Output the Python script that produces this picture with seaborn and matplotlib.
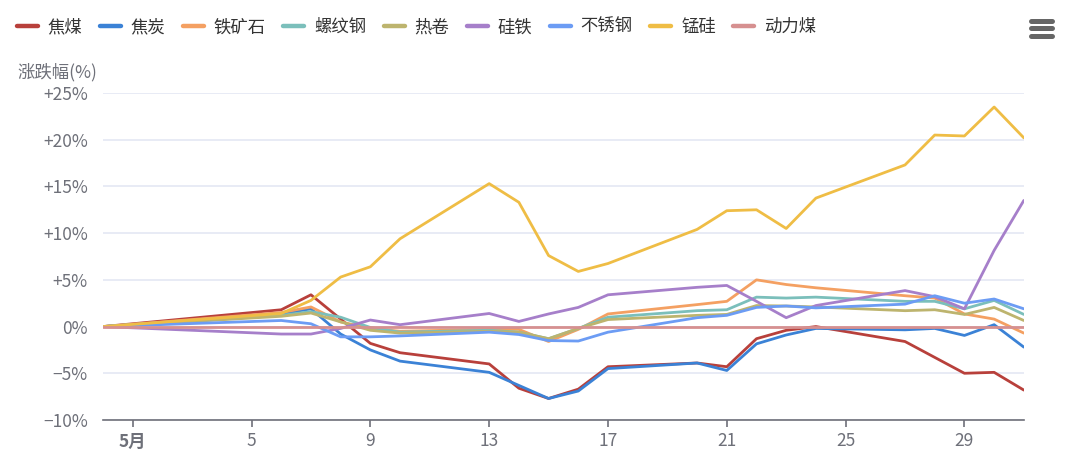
import pandas as pd
import matplotlib
matplotlib.use("Agg")
import matplotlib.pyplot as plt
import seaborn as sns
from matplotlib.lines import Line2D
from matplotlib.ticker import FixedLocator, FuncFormatter

# day of May (0 = Apr 30 base day)
days = [0, 6, 7, 8, 9, 10, 13, 14, 15, 16, 17, 20, 21, 22, 23, 24, 27, 28, 29, 30, 31]

jiaomei = [0, 1.8, 3.4, 0.8, -1.8, -2.8, -4.0, -6.6, -7.7, -6.7, -4.3, -3.9, -4.3, -1.3, -0.4, 0.0, -1.6, -3.3, -5.0, -4.9, -6.8]
jiaotan = [0, 1.35, 1.9, -0.8, -2.5, -3.7, -4.9, -6.3, -7.7, -6.9, -4.5, -3.9, -4.7, -1.85, -0.9, -0.2, -0.35, -0.2, -0.95, 0.2, -2.2]
tiekuang = [0, 1.5, 2.1, 0.5, -0.2, -0.5, -0.3, -0.3, -1.6, -0.3, 1.35, 2.35, 2.7, 5.0, 4.5, 4.15, 3.3, 3.05, 1.35, 0.8, -0.7]
luowen = [0, 1.2, 1.6, 1.0, -0.1, -0.6, -0.4, -0.6, -1.3, -0.2, 1.0, 1.7, 1.8, 3.15, 3.05, 3.15, 2.7, 2.7, 1.9, 2.8, 1.3]
rejuan = [0, 1.1, 1.45, 0.5, -0.4, -0.7, -0.5, -0.6, -1.3, -0.2, 0.75, 1.2, 1.3, 2.25, 2.2, 2.1, 1.7, 1.8, 1.3, 2.05, 0.65]
guitie = [0, -0.8, -0.8, -0.2, 0.7, 0.2, 1.4, 0.55, 1.35, 2.05, 3.4, 4.2, 4.4, 2.7, 0.95, 2.25, 3.85, 3.2, 1.9, 8.15, 13.5]
buxiu = [0, 0.65, 0.3, -1.1, -1.1, -1.0, -0.6, -0.85, -1.5, -1.55, -0.6, 0.95, 1.2, 2.05, 2.2, 2.0, 2.4, 3.3, 2.5, 2.95, 1.9]
menggui = [0, 1.4, 2.8, 5.3, 6.4, 9.4, 15.3, 13.3, 7.6, 5.9, 6.75, 10.4, 12.4, 12.5, 10.5, 13.75, 17.3, 20.5, 20.4, 23.5, 20.2]
dongli = [0] * len(days)

names = ["焦煤", "焦炭", "铁矿石", "螺纹钢", "热卷", "硅铁", "不锈钢", "锰硅", "动力煤"]
series = [jiaomei, jiaotan, tiekuang, luowen, rejuan, guitie, buxiu, menggui, dongli]
colors = ["#b8403b", "#3b82d6", "#f4a062", "#7bbfbb", "#bdb46e", "#a67fca", "#6c9cf4", "#efbd45", "#d69090"]

xtick_pos = [1, 5, 9, 13, 17, 21, 25, 29]
xtick_lab = ["5月", "5", "9", "13", "17", "21", "25", "29"]
ytick_pos = [-10, -5, 0, 5, 10, 15, 20, 25]

rows = []
for name, vals in zip(names, series):
    for d, v in zip(days, vals):
        rows.append({"day": d, "pct": v, "品种": name})
df = pd.DataFrame(rows)

sns.set_theme(style="white")
plt.rcParams["font.family"] = ["Noto Sans CJK SC", "DejaVu Sans"]
plt.rcParams["axes.unicode_minus"] = True

fig = plt.figure(figsize=(10.8, 4.69), dpi=100)
ax = fig.add_axes([0.0954, 0.1045, 0.8526, 0.6972])

sns.lineplot(data=df, x="day", y="pct", hue="品种", hue_order=names,
             palette=dict(zip(names, colors)), linewidth=2.0, ax=ax,
             legend=False, estimator=None, sort=True)

ax.set_xlim(0, 31)
ax.set_ylim(-10, 25)
ax.yaxis.set_major_locator(FixedLocator(ytick_pos))


def fmt_pct(v, _):
    v = int(round(v))
    if v > 0:
        return f"+{v}%"
    if v < 0:
        return f"\u2212{abs(v)}%"
    return "0%"


ax.yaxis.set_major_formatter(FuncFormatter(fmt_pct))
ax.set_xticks(xtick_pos)
ax.set_xticklabels(xtick_lab)
ax.get_xticklabels()[0].set_fontweight("bold")
ax.get_xticklabels()[0].set_color("#444444")

ax.grid(axis="y", color="#e4e8f4", linewidth=1.2)
ax.set_axisbelow(True)
for s in ["top", "right", "left"]:
    ax.spines[s].set_visible(False)
ax.spines["bottom"].set_color("#6e7079")
ax.spines["bottom"].set_linewidth(1.2)
ax.tick_params(axis="y", length=0, labelsize=12.5, labelcolor="#6e7079", pad=11)
ax.tick_params(axis="x", length=5, width=1.2, color="#6e7079", labelsize=12.5,
               labelcolor="#6e7079", direction="out", bottom=True, pad=4)
ax.set_xlabel("")
ax.set_ylabel("")

fig.text(0.016, 0.845, "涨跌幅(%)", fontsize=12.5, color="#6e7079", ha="left", va="center")

handles = [Line2D([], [], color=c, linewidth=3.2) for c in colors]
fig.legend(handles, names, loc="center left", bbox_to_anchor=(0.0013, 0.942),
           ncol=9, frameon=False, fontsize=12.5, handlelength=1.2,
           handletextpad=0.58, columnspacing=1.0, labelcolor="#333333")

# menu icon
for yy in [0.924, 0.940, 0.955]:
    fig.add_artist(Line2D([0.955, 0.974], [yy, yy], color="#666666",
                          linewidth=3.6, solid_capstyle="round"))

fig.savefig("out.png", dpi=100)
